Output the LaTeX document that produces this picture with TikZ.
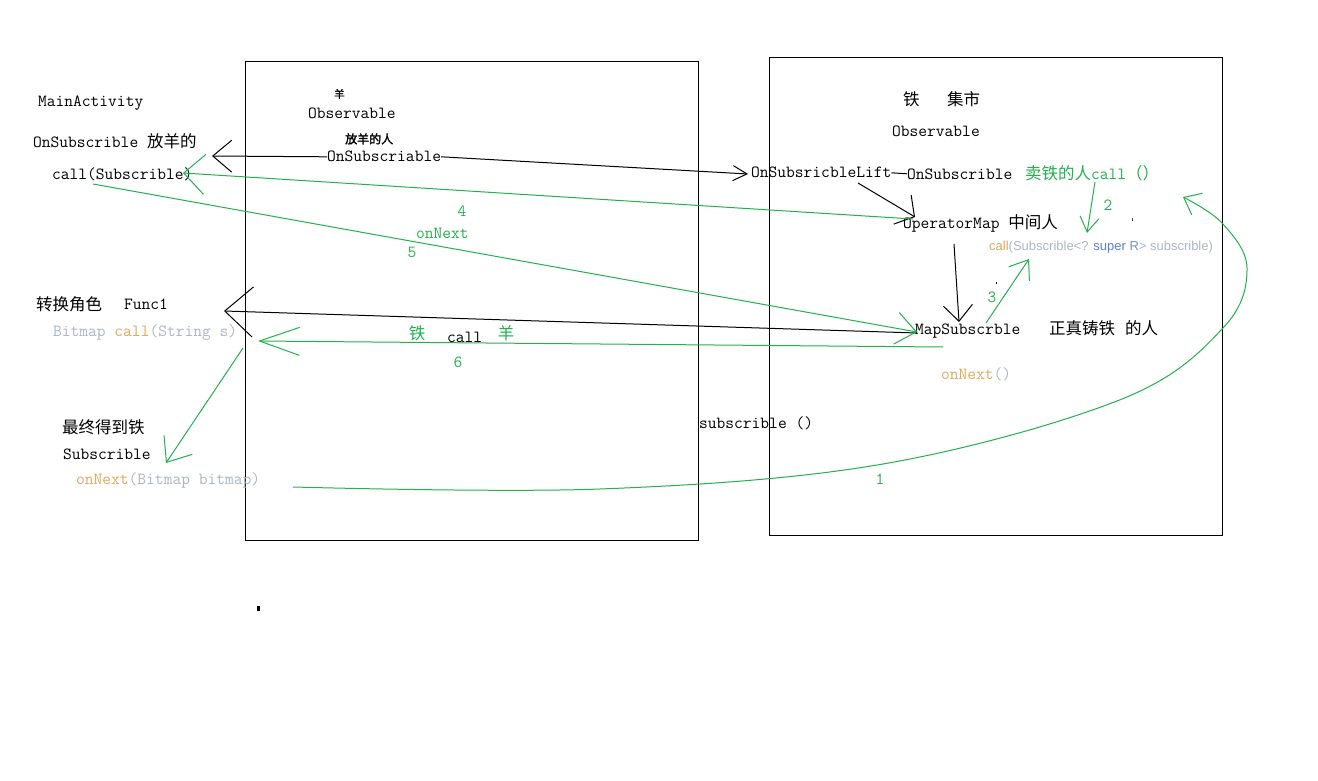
\documentclass[tikz,border=0pt]{standalone}
\usepackage{fontspec}
\usetikzlibrary{arrows.meta}
\newfontfamily\cjk[AutoFakeBold=2]{Noto Sans CJK SC}
\newfontfamily\dgsansfam{Liberation Sans}
\newcommand\dgmono{\ttfamily\fontsize{17}{18}\selectfont}
\newcommand\dgzhf{\cjk\fontsize{16.5}{18}\selectfont}
\newcommand\dgzh[1]{{\dgzhf #1}}
\newcommand\dgsans{\dgsansfam\fontsize{13}{15}\selectfont}
\definecolor{pgreen}{RGB}{34,177,76}
\definecolor{porange}{RGB}{226,168,92}
\definecolor{pgray}{RGB}{170,182,200}
\definecolor{pblue}{RGB}{90,125,215}
\definecolor{pbluegray}{RGB}{125,143,190}
\tikzset{
  txt/.style={inner sep=0pt, anchor=base west, font=\dgmono},
  num/.style={inner sep=0pt, font=\dgmono, text=pgreen},
  bl/.style={line width=1pt, black},
  gr/.style={line width=1pt, pgreen},
  panel/.style={draw, line width=1pt, inner sep=0pt, anchor=north west},
}
\begin{document}
\begin{tikzpicture}[x=1pt,y=-1pt]
\fill[white] (0,0) rectangle (1318,781);
\useasboundingbox (0,0) rectangle (1318,781);
% panels
\node[panel, minimum width=453pt, minimum height=479pt] (boxA) at (245,61) {};
\node[panel, minimum width=453pt, minimum height=478pt] (boxB) at (769,57) {};
% left texts
\node[txt] (mainact) at (38,107) {MainActivity};
\node[txt] (onsubL) at (33,148) {OnSubscrible \dgzh{放羊的}};
\node[txt] (callsubL) at (52,179) {call(Subscrible)};
\node[txt, font=\dgzhf] (zhuan) at (36,310) {转换角色};
\node[txt] (func) at (124,309) {Func1};
\node[txt] (bitcall) at (53,336) {\textcolor{pgray}{Bitmap }\textcolor{porange}{call}\textcolor{pgray}{(String s)}};
\node[txt, font=\dgzhf] (zuizhong) at (62,433) {最终得到铁};
\node[txt] (subscr) at (63,459) {Subscrible};
\node[txt] (onnextB) at (76,484) {\textcolor{porange}{onNext}\textcolor{pgray}{(Bitmap bitmap)}};
% middle panel texts
\node[txt, font=\cjk\fontsize{10.5}{12}\selectfont\bfseries] (yang) at (334,98) {羊};
\node[txt] (obs1) at (308,119) {Observable};
\node[txt, font=\cjk\fontsize{12}{14}\selectfont\bfseries] (fangren) at (345,143.5) {放羊的人};
\node[txt] (onsub1) at (327,162) {OnSubscriable};
\node[num] (n4) at (462,211) {4};
\node[txt, text=pgreen] (onnextL) at (416,238) {onNext};
\node[num] (n5) at (412,252) {5};
\node[txt, font=\dgzhf, text=pgreen] (tie2) at (408.7,339) {铁};
\node[txt] (call2) at (447,342) {call};
\node[txt, font=\dgzhf, text=pgreen] (yang2) at (497.7,339) {羊};
\node[num] (n6) at (458,362) {6};
\node[txt] (subscrible) at (699,428) {subscrible ()};
% right panel texts
\node[txt, font=\dgzhf] (tie) at (903,106) {铁};
\node[txt, font=\dgzhf] (jishi) at (947,106) {集市};
\node[txt] (obs2) at (892,137) {Observable};
\node[txt] (lift) at (751,178) {OnSubsricbleLift};
\node[txt] (onsub2) at (907,179) {OnSubscrible};
\node[txt, text=pgreen] (maitie) at (1025,179) {\dgzh{卖铁的人}call\dgzh{（）}};
\node[num] (n2) at (1108,205) {2};
\node[txt] (opmap) at (903,229) {OperatorMap \dgzh{中间人}};
\node[txt, font=\dgsans] (callsig) at (989,250.6) {\textcolor{porange}{call}\textcolor{pgray}{(Subscrible<? }\textcolor{pblue}{super }\textcolor{pbluegray}{R}\textcolor{pgray}{> subscrible)}};
\node[num] (n3) at (992,297) {3};
\node[txt] (mapsub) at (915,334) {MapSubscrble};
\node[txt, font=\dgzhf] (zhen) at (1049,334) {正真铸铁\hspace{10pt}的人};
\node[txt] (onnext2) at (941,379) {\textcolor{porange}{onNext}\textcolor{pgray}{()}};
\node[num] (n1) at (880,479) {1};
% connector end points
\coordinate (fangTip) at (212,156);
\coordinate (liftIn) at (748,174);
\coordinate (liftOut) at (858,183);
\coordinate (opTop) at (915,217);
\coordinate (opDown) at (954,244);
\coordinate (mapTop) at (959,322);
\coordinate (funcTip) at (224,311);
\coordinate (mapL) at (917,333);
\coordinate (callTip) at (183,173);
\coordinate (opIn) at (913,219);
\coordinate (g5s) at (93,184);
\coordinate (mapIn) at (917,332);
\coordinate (bitTip) at (258,341);
\coordinate (mapOut) at (943,347);
\coordinate (g9s) at (243,348);
\coordinate (g9e) at (166,463);
\coordinate (g2s) at (1095,182);
\coordinate (g2e) at (1087,233);
\coordinate (g3s) at (986,323);
\coordinate (g3e) at (1029,259);
\coordinate (g1s) at (293,487);
\coordinate (g1e) at (1183,197);
% black connectors
\draw[bl, {Straight Barb[length=19pt,width=32pt]}-] (fangTip) -- (onsub1.west);
\draw[bl, -{Straight Barb[length=14pt,width=15pt]}] (onsub1.east) -- (liftIn);
\draw[bl] (lift.east) -- (onsub2.west);
\draw[bl, -{Straight Barb[length=14pt,width=34pt]}] (liftOut) -- (opTop);
\draw[bl, -{Straight Barb[length=16pt,width=29pt]}] (opDown) -- (mapTop);
\draw[bl, {Straight Barb[length=28pt,width=50pt]}-] (funcTip) -- (mapL);
% green connectors
\draw[gr, {Straight Barb[length=21pt,width=40pt]}-] (callTip) -- (opIn);
\draw[gr, -{Straight Barb[length=20pt,width=32pt]}] (g5s) -- (mapIn);
\draw[gr, {Straight Barb[length=40pt,width=28pt]}-] (bitTip) -- (mapOut);
\draw[gr, -{Straight Barb[length=21pt,width=34pt]}] (g9s) -- (g9e);
\draw[gr, -{Straight Barb[length=15pt,width=19pt]}] (g2s) -- (g2e);
\draw[gr, -{Straight Barb[length=17pt,width=25pt]}] (g3s) -- (g3e);
\draw[gr, -{Straight Barb[length=15pt,width=24pt]}] plot[smooth, tension=0.6] coordinates {(g1s) (600,489) (883,464) (1122,399) (1223,328) (1247,268) (1222,223) (g1e)};
% stray marks
\fill (257,606) rectangle (259.5,611);
\fill (995.5,282) rectangle (997,284);
\fill[pgreen!60!black] (1131.5,218) rectangle (1132.5,221);
\end{tikzpicture}
\end{document}
